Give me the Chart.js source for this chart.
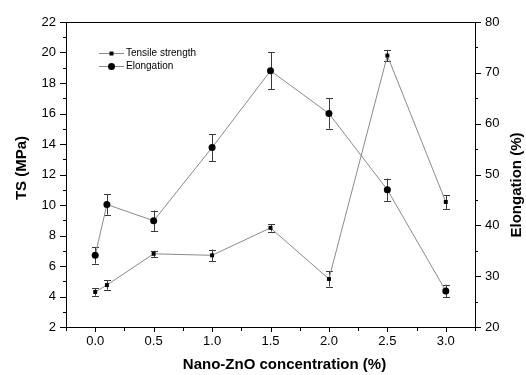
<!DOCTYPE html>
<html>
<head>
<meta charset="utf-8">
<script src="https://cdn.jsdelivr.net/npm/chart.js@4.4.0/dist/chart.umd.min.js"></script>
<style>
  html, body { margin: 0; padding: 0; background: #fff; }
  #wrap { width: 526px; height: 375px; }
</style>
</head>
<body>
<div id="wrap"><canvas id="c" width="526" height="375"></canvas></div>
<script>
// ---- data ----
const concentrations = [0, 0.1, 0.5, 1.0, 1.5, 2.0, 2.5, 3.0];
const tensileStrength = [4.3, 4.75, 6.8, 6.7, 8.5, 5.15, 19.8, 10.2];
const tensileErr = [0.25, 0.3, 0.2, 0.38, 0.24, 0.5, 0.37, 0.46];
const elongation = [34.1, 44.1, 40.9, 55.3, 70.4, 62.0, 47.0, 27.1];
const elongErr = [1.65, 2.0, 2.0, 2.65, 3.6, 3.0, 2.2, 1.2];
const xTickLabels = [0, 0.5, 1.0, 1.5, 2.0, 2.5, 3.0];
const leftTicks = [2, 4, 6, 8, 10, 12, 14, 16, 18, 20, 22];
const rightTicks = [20, 30, 40, 50, 60, 70, 80];
const seriesNames = ['Tensile strength', 'Elongation'];
const axisTitles = { x: 'Nano-ZnO concentration (%)', left: 'TS (MPa)', right: 'Elongation (%)' };

const FONT = '"Liberation Sans", Arial, sans-serif';
const LINE_COLOR = '#8a8a8a';
const ERR_COLOR = '#3a3a3a';

const tsPoints = concentrations.map((x, i) => ({x, y: tensileStrength[i], e: tensileErr[i]}));
const elPoints = concentrations.map((x, i) => ({x, y: elongation[i], e: elongErr[i]}));

const errorBars = {
  id: 'errorBars',
  beforeDatasetsDraw(chart) {
    const ctx = chart.ctx;
    ctx.save();
    ctx.strokeStyle = ERR_COLOR;
    ctx.lineWidth = 1;
    chart.data.datasets.forEach((ds) => {
      const xs = chart.scales.x, ys = chart.scales[ds.yAxisID];
      ds.data.forEach(p => {
        const px = Math.round(xs.getPixelForValue(p.x)) + 0.5;
        const y1 = ys.getPixelForValue(p.y + p.e);
        const y2 = ys.getPixelForValue(p.y - p.e);
        ctx.beginPath();
        ctx.moveTo(px, y1); ctx.lineTo(px, y2);
        ctx.moveTo(px - 3.5, Math.round(y1) + 0.5); ctx.lineTo(px + 3.5, Math.round(y1) + 0.5);
        ctx.moveTo(px - 3.5, Math.round(y2) + 0.5); ctx.lineTo(px + 3.5, Math.round(y2) + 0.5);
        ctx.stroke();
      });
    });
    ctx.restore();
  }
};

const customDecor = {
  id: 'customDecor',
  afterDraw(chart) {
    const ctx = chart.ctx;
    const {x, yL, yR} = chart.scales;
    const area = chart.chartArea;
    ctx.save();
    ctx.strokeStyle = '#000';
    ctx.lineWidth = 1;
    ctx.beginPath();
    // top border
    ctx.moveTo(area.left, Math.round(area.top) + 0.5); ctx.lineTo(area.right, Math.round(area.top) + 0.5);
    // bottom axis ticks every 0.25
    for (let v = -0.25; v <= 3.2501; v += 0.25) {
      const px = Math.round(x.getPixelForValue(v)) + 0.5;
      const major = Math.abs(v / 0.5 - Math.round(v / 0.5)) < 1e-6;
      ctx.moveTo(px, area.bottom); ctx.lineTo(px, area.bottom + (major ? 5 : 4));
    }
    // left ticks
    for (let v = 2; v <= 22.001; v += 1) {
      const py = Math.round(yL.getPixelForValue(v)) + 0.5;
      const major = v % 2 === 0;
      ctx.moveTo(area.left, py); ctx.lineTo(area.left - (major ? 6 : 3), py);
    }
    // right ticks
    for (let v = 20; v <= 80.001; v += 5) {
      const py = Math.round(yR.getPixelForValue(v)) + 0.5;
      const major = v % 10 === 0;
      ctx.moveTo(area.right, py); ctx.lineTo(area.right + (major ? 6 : 3), py);
    }
    ctx.stroke();

    // axis titles
    ctx.fillStyle = '#000';
    ctx.font = 'bold 15px ' + FONT;
    ctx.textAlign = 'center';
    ctx.textBaseline = 'middle';
    ctx.fillText(axisTitles.x, (area.left + area.right) / 2 + 14, 365);
    ctx.save();
    ctx.translate(22, 168);
    ctx.rotate(-Math.PI / 2);
    ctx.fillText(axisTitles.left, 0, 0);
    ctx.restore();
    ctx.save();
    ctx.translate(517, 185);
    ctx.rotate(-Math.PI / 2);
    ctx.fillText(axisTitles.right, 0, 0);
    ctx.restore();

    // legend
    const items = [
      {name: seriesNames[0], style: 'rect', y: 53},
      {name: seriesNames[1], style: 'circle', y: 66}
    ];
    ctx.font = 'normal 10px ' + FONT;
    ctx.textAlign = 'left';
    ctx.textBaseline = 'middle';
    items.forEach(it => {
      ctx.strokeStyle = LINE_COLOR;
      ctx.beginPath();
      ctx.moveTo(99, it.y + 0.5); ctx.lineTo(124, it.y + 0.5);
      ctx.stroke();
      ctx.fillStyle = '#000';
      ctx.beginPath();
      if (it.style === 'rect') {
        ctx.rect(109.5, it.y - 1.5, 4, 4);
      } else {
        ctx.arc(111.5, it.y + 0.5, 3.5, 0, Math.PI * 2);
      }
      ctx.fill();
      ctx.fillText(it.name, 126, it.y + 0.5);
    });
    ctx.restore();
  }
};

new Chart(document.getElementById('c'), {
  type: 'line',
  data: {
    datasets: [
      {
        label: seriesNames[0],
        data: tsPoints,
        yAxisID: 'yL',
        borderColor: LINE_COLOR,
        borderWidth: 1,
        pointStyle: 'rect',
        pointRadius: 2.8,
        pointBackgroundColor: '#000',
        pointBorderColor: '#000',
        pointBorderWidth: 0,
        tension: 0
      },
      {
        label: seriesNames[1],
        data: elPoints,
        yAxisID: 'yR',
        borderColor: LINE_COLOR,
        borderWidth: 1,
        pointStyle: 'circle',
        pointRadius: 3.5,
        pointBackgroundColor: '#000',
        pointBorderColor: '#000',
        pointBorderWidth: 0,
        tension: 0
      }
    ]
  },
  options: {
    responsive: false,
    animation: false,
    events: [],
    layout: { padding: { top: 22, left: 0, right: 0, bottom: 0 } },
    plugins: { legend: { display: false }, tooltip: { enabled: false } },
    scales: {
      x: {
        type: 'linear',
        position: 'bottom',
        min: -0.25,
        max: 3.25,
        afterBuildTicks(s) { s.ticks = xTickLabels.map(v => ({value: v})); },
        afterFit(s) { s.height = 48; },
        grid: { display: false, drawTicks: false },
        border: { display: true, color: '#000', width: 1 },
        ticks: {
          padding: 7,
          color: '#000',
          font: { family: FONT, size: 13 },
          maxRotation: 0,
          callback: v => Number(v).toFixed(1)
        }
      },
      yL: {
        type: 'linear',
        position: 'left',
        min: 2,
        max: 22,
        afterBuildTicks(s) { s.ticks = leftTicks.map(v => ({value: v})); },
        afterFit(s) { s.width = 66; },
        grid: { display: false, drawTicks: false },
        border: { display: true, color: '#000', width: 1 },
        ticks: {
          padding: 10,
          color: '#000',
          font: { family: FONT, size: 13 }
        }
      },
      yR: {
        type: 'linear',
        position: 'right',
        min: 20,
        max: 80,
        afterBuildTicks(s) { s.ticks = rightTicks.map(v => ({value: v})); },
        afterFit(s) { s.width = 51; },
        grid: { display: false, drawTicks: false },
        border: { display: true, color: '#000', width: 1 },
        ticks: {
          padding: 10,
          color: '#000',
          font: { family: FONT, size: 13 }
        }
      }
    }
  },
  plugins: [errorBars, customDecor]
});
</script>
</body>
</html>
